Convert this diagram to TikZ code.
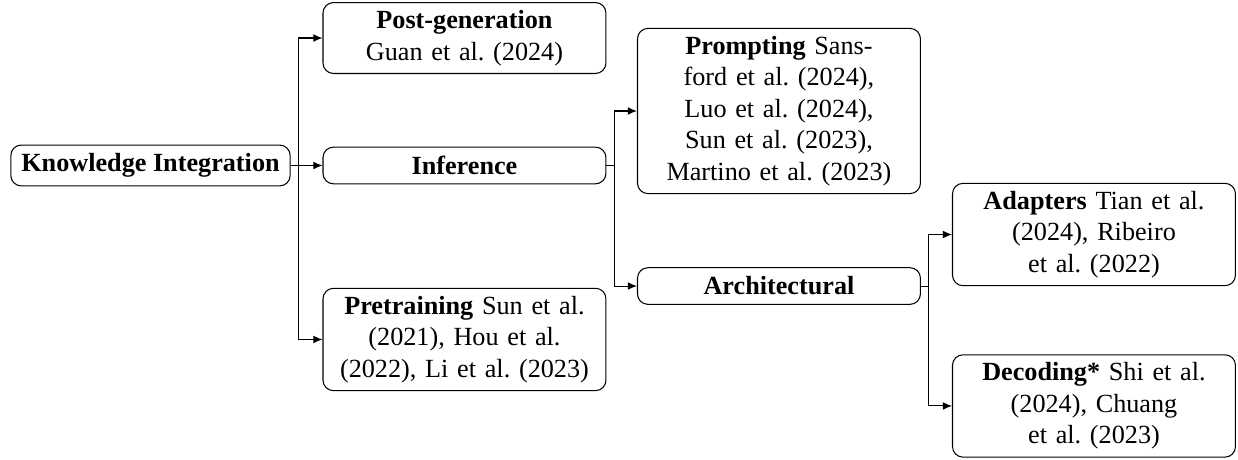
\documentclass[tikz,border=0pt]{standalone}
\usepackage{fontspec}
\setmainfont{Liberation Serif}
\frenchspacing
\usetikzlibrary{arrows.meta, positioning}

\begin{document}
\begin{tikzpicture}[
    box/.style={rectangle, draw, rounded corners=4pt, align=center, inner xsep=4pt, inner ysep=3pt},
    root/.style={box, font=\bfseries, minimum height=15.6pt},
    branch/.style={box, text width=100pt, minimum height=14pt},
    leaf/.style={box, text width=100pt},
    link/.style={-{Latex[length=3.5pt, width=3pt]}}
]
    \useasboundingbox (0,0) rectangle (16.608,-6.158);

    \node[root] (integration) at (2.019,-2.220) {Knowledge Integration};
    \node[leaf] (postgen) at (6.231,-0.510) {\textbf{Post-generation}\\Guan et al. (2024)};
    \node[branch] (inference) at (6.231,-2.220) {\textbf{Inference}};
    \node[leaf] (pretraining) at (6.231,-4.554) {\textbf{Pretraining} Sun et al.\\(2021), Hou et al.\\(2022), Li et al. (2023)};
    \node[leaf] (prompting) at (10.450,-1.489) {\textbf{Prompting} Sans-\\ford et al. (2024),\\Luo et al. (2024),\\Sun et al. (2023),\\Martino et al. (2023)};
    \node[branch] (architectural) at (10.450,-3.837) {\textbf{Architectural}};
    \node[leaf] (adapters) at (14.676,-3.146) {\textbf{Adapters} Tian et al.\\(2024), Ribeiro\\et al. (2022)};
    \node[leaf] (decoding) at (14.676,-5.446) {\textbf{Decoding*} Shi et al.\\(2024), Chuang\\et al. (2023)};

    \draw[link] (integration.east) -- ++(3pt,0) |- (postgen.west);
    \draw[link] (integration.east) -- ++(3pt,0) |- (inference.west);
    \draw[link] (integration.east) -- ++(3pt,0) |- (pretraining.west);

    \draw[link] (inference.east) -- ++(3pt,0) |- (prompting.west);
    \draw[link] (inference.east) -- ++(3pt,0) |- (architectural.west);

    \draw[link] (architectural.east) -- ++(3pt,0) |- (adapters.west);
    \draw[link] (architectural.east) -- ++(3pt,0) |- (decoding.west);
\end{tikzpicture}
\end{document}
